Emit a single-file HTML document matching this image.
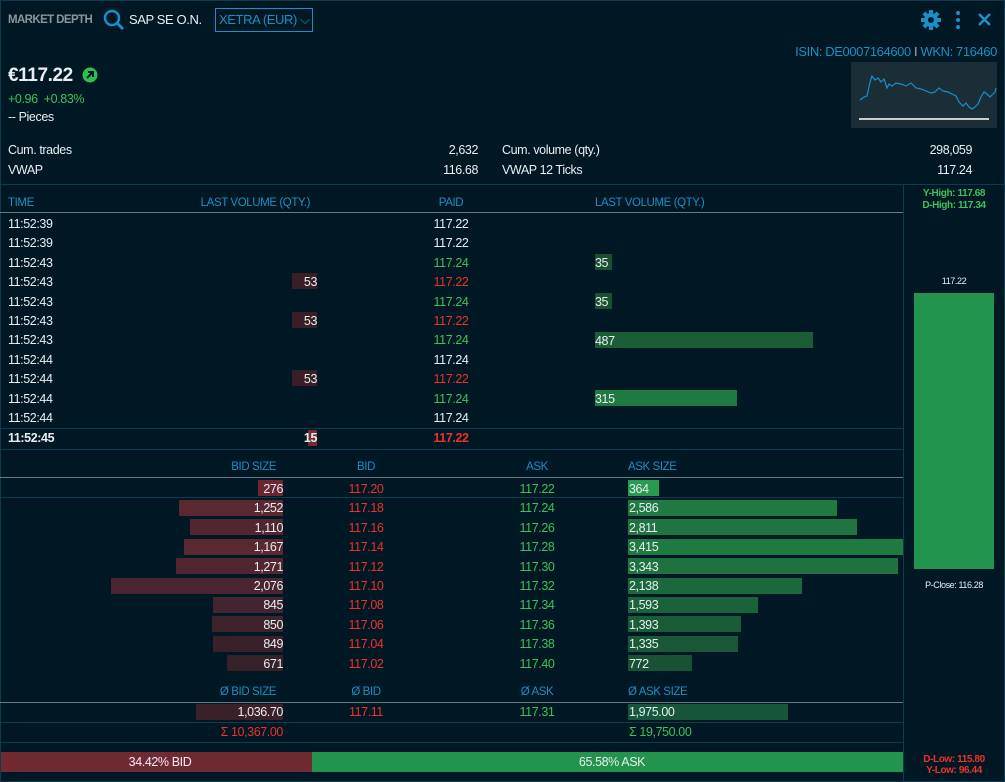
<!DOCTYPE html>
<html><head><meta charset="utf-8"><style>
*{margin:0;padding:0;box-sizing:border-box}
body{width:1005px;height:782px;background:#001824;overflow:hidden;position:relative;font-family:"Liberation Sans Narrow","Liberation Sans",sans-serif;font-size:12.5px;color:#e8eef2;letter-spacing:-0.4px}
.a{position:absolute;white-space:nowrap;line-height:16px}
.r{text-align:right}.c{text-align:center}
.h{color:#1a8fc8}
.g{color:#3cc25a}.rd{color:#f0302a}
.ln{position:absolute;height:1px;background:#0d3b50}
.gl{position:absolute;height:1px;background:#6a7880}
.b{position:absolute;height:16px}
</style></head><body>
<div style="position:absolute;left:0;top:0;width:1005px;height:782px;border:1px solid #0f3a4e"></div>
<div class="a" style="left:8px;top:12px;color:#8a969c;font-weight:bold;font-size:11.5px;letter-spacing:-0.6px">MARKET DEPTH</div>
<svg style="position:absolute;left:102px;top:8px" width="24" height="24"><circle cx="10" cy="10" r="7" stroke="#1a8fc8" stroke-width="2.5" fill="none"/><line x1="15" y1="15" x2="21" y2="21" stroke="#1a8fc8" stroke-width="3"/></svg>
<div class="a" style="left:129px;top:12px;font-size:13px">SAP SE O.N.</div>
<div style="position:absolute;left:215px;top:8px;width:98px;height:24px;border:1px solid #1a8fc8"></div>
<div class="a h" style="left:219px;top:12px;font-size:13px">XETRA (EUR) ⌵</div>
<svg style="position:absolute;left:920px;top:9px" width="80" height="22"><g fill="#1a8fc8"><circle cx="11" cy="11" r="7"/><rect x="9" y="1" width="4" height="20"/><rect x="1" y="9" width="20" height="4"/><rect x="9" y="1" width="4" height="20" transform="rotate(45 11 11)"/><rect x="9" y="1" width="4" height="20" transform="rotate(-45 11 11)"/></g><circle cx="11" cy="11" r="3" fill="#001824"/><circle cx="38" cy="4" r="2" fill="#1a8fc8"/><circle cx="38" cy="11" r="2" fill="#1a8fc8"/><circle cx="38" cy="18" r="2" fill="#1a8fc8"/><path d="M59 5L70 16M70 5L59 16" stroke="#1a8fc8" stroke-width="2.5"/></svg>
<div class="a h r" style="left:700px;width:297px;top:44px;font-size:13px">ISIN: DE0007164600 <span style="color:#aaa">I</span> WKN: 716460</div>
<div style="position:absolute;left:851px;top:62px;width:146px;height:66px;background:#1b2d37"></div>
<svg style="position:absolute;left:851px;top:62px" width="146" height="66"><polyline fill="none" stroke="#1a8fc8" stroke-width="1.2" points="9,38 13,35 16,34 19,20 21,14 24,18 27,16 30,20 33,17 36,26 38,22 41,24 45,21 50,22 55,24 60,21 65,26 70,27 75,29 80,31 84,30 88,26 92,29 97,30 101,32 105,34 108,40 112,44 115,41 118,45 121,47 124,45 127,42 130,35 133,30 136,32 139,35 141,33 144,30 145,26"/><line x1="8" y1="57" x2="138" y2="57" stroke="#ccc" stroke-width="2"/></svg>
<div class="a" style="left:8px;top:66px;font-size:19px;font-weight:bold;line-height:20px">€117.22</div>
<svg style="position:absolute;left:82px;top:67px" width="16" height="16"><circle cx="8" cy="8" r="7.5" fill="#2fbf4f"/><path d="M5 11L11 5M6 5H11V10" stroke="#001824" stroke-width="2" fill="none"/></svg>
<div class="a g" style="left:8px;top:91px">+0.96 &nbsp;+0.83%</div>
<div class="a" style="left:8px;top:109px">-- Pieces</div>
<div class="a" style="left:8px;top:142px">Cum. trades</div><div class="a r" style="left:400px;width:78px;top:142px">2,632</div>
<div class="a" style="left:8px;top:162px">VWAP</div><div class="a r" style="left:400px;width:78px;top:162px">116.68</div>
<div class="a" style="left:502px;top:142px">Cum. volume (qty.)</div><div class="a r" style="left:880px;width:92px;top:142px">298,059</div>
<div class="a" style="left:502px;top:162px">VWAP 12 Ticks</div><div class="a r" style="left:880px;width:92px;top:162px">117.24</div>
<div class="ln" style="left:0;top:184px;width:1005px"></div>
<div style="position:absolute;left:903px;top:184px;width:1px;height:598px;background:#0d3b50"></div>
<!-- trades header -->
<div class="a h" style="left:8px;top:195px;font-size:11.5px">TIME</div>
<div class="a h r" style="left:150px;width:160px;top:195px;font-size:11.5px">LAST VOLUME (QTY.)</div>
<div class="a h c" style="left:420px;width:62px;top:195px;font-size:11.5px">PAID</div>
<div class="a h" style="left:595px;top:195px;font-size:11.5px">LAST VOLUME (QTY.)</div>
<div class="gl" style="left:0;top:212px;width:903px"></div>
<div style="position:absolute;left:0;top:214px">
<div class="b" style="left:292px;top:59px;width:25px;background:#3a1d26"></div>
<div class="b" style="left:292px;top:98px;width:25px;background:#3a1d26"></div>
<div class="b" style="left:292px;top:156px;width:25px;background:#3a1d26"></div>
<div class="b" style="left:595px;top:40px;width:17px;background:#17512f"></div>
<div class="b" style="left:595px;top:79px;width:17px;background:#17512f"></div>
<div class="b" style="left:595px;top:118px;width:218px;background:#1a5e37"></div>
<div class="b" style="left:595px;top:176px;width:142px;background:#1f7a42"></div>
<div class="b" style="left:308px;top:216px;width:9px;background:#7a2a32"></div>
</div>
<div style="position:absolute;left:0;top:215px;line-height:19.4px">
<div class="a" style="left:8px;top:0;line-height:19.4px">11:52:39<br>11:52:39<br>11:52:43<br>11:52:43<br>11:52:43<br>11:52:43<br>11:52:43<br>11:52:44<br>11:52:44<br>11:52:44<br>11:52:44</div>
<div class="a c" style="left:420px;width:62px;top:0;line-height:19.4px">117.22<br>117.22<br><span class="g">117.24</span><br><span class="rd">117.22</span><br><span class="g">117.24</span><br><span class="rd">117.22</span><br><span class="g">117.24</span><br>117.24<br><span class="rd">117.22</span><br><span class="g">117.24</span><br>117.24</div>
<div class="a r" style="left:280px;width:37px;top:58px;line-height:19.4px">53<br><br>53<br><br><br>53</div>
<div class="a" style="left:595px;top:39px;line-height:19.4px">35<br><br>35<br><br>487<br><br><br>315</div>
</div>
<div class="ln" style="left:0;top:428px;width:903px"></div>
<div class="a" style="left:8px;top:430px;font-weight:bold">11:52:45</div>
<div class="a r" style="left:280px;width:37px;top:430px;font-weight:bold">15</div>
<div class="a c rd" style="left:420px;width:62px;top:430px;font-weight:bold">117.22</div>
<div class="ln" style="left:0;top:449px;width:903px"></div>
<!-- book -->
<div class="a h r" style="left:180px;width:96px;top:459px;font-size:11.5px">BID SIZE</div>
<div class="a h c" style="left:335px;width:62px;top:459px;font-size:11.5px">BID</div>
<div class="a h c" style="left:506px;width:62px;top:459px;font-size:11.5px">ASK</div>
<div class="a h" style="left:628px;top:459px;font-size:11.5px">ASK SIZE</div>
<div class="gl" style="left:0;top:477px;width:903px"></div>
<div class="ln" style="left:0;top:497px;width:903px"></div>
<div style="position:absolute;left:0;top:480px">
<div class="b" style="left:258px;top:0;width:25px;background:#6b2630"></div>
<div class="b" style="left:179px;top:20px;width:104px;background:#5a2830"></div>
<div class="b" style="left:190px;top:39px;width:93px;background:#522630"></div>
<div class="b" style="left:184px;top:59px;width:99px;background:#5a2830"></div>
<div class="b" style="left:176px;top:78px;width:107px;background:#522630"></div>
<div class="b" style="left:111px;top:98px;width:172px;background:#4a2430"></div>
<div class="b" style="left:213px;top:117px;width:70px;background:#442430"></div>
<div class="b" style="left:212px;top:136px;width:71px;background:#3e222c"></div>
<div class="b" style="left:213px;top:156px;width:70px;background:#3a202a"></div>
<div class="b" style="left:227px;top:175px;width:56px;background:#36202a"></div>
<div class="b" style="left:628px;top:0;width:31px;background:#2a9a4e"></div>
<div class="b" style="left:628px;top:20px;width:209px;background:#1f7a42"></div>
<div class="b" style="left:628px;top:39px;width:229px;background:#1f7442"></div>
<div class="b" style="left:628px;top:59px;width:275px;background:#1f7a42"></div>
<div class="b" style="left:628px;top:78px;width:270px;background:#1d7240"></div>
<div class="b" style="left:628px;top:98px;width:174px;background:#1b683c"></div>
<div class="b" style="left:628px;top:117px;width:130px;background:#1a633a"></div>
<div class="b" style="left:628px;top:136px;width:113px;background:#195c38"></div>
<div class="b" style="left:628px;top:156px;width:110px;background:#185836"></div>
<div class="b" style="left:628px;top:175px;width:64px;background:#175234"></div>
</div>
<div style="position:absolute;left:0;top:480px">
<div class="a r" style="left:200px;width:83px;top:0;line-height:19.4px">276<br>1,252<br>1,110<br>1,167<br>1,271<br>2,076<br>845<br>850<br>849<br>671</div>
<div class="a c rd" style="left:335px;width:62px;top:0;line-height:19.4px">117.20<br>117.18<br>117.16<br>117.14<br>117.12<br>117.10<br>117.08<br>117.06<br>117.04<br>117.02</div>
<div class="a c g" style="left:506px;width:62px;top:0;line-height:19.4px">117.22<br>117.24<br>117.26<br>117.28<br>117.30<br>117.32<br>117.34<br>117.36<br>117.38<br>117.40</div>
<div class="a" style="left:629px;top:0;line-height:19.4px">364<br>2,586<br>2,811<br>3,415<br>3,343<br>2,138<br>1,593<br>1,393<br>1,335<br>772</div>
</div>
<div class="a h r" style="left:180px;width:96px;top:684px;font-size:11.5px">Ø BID SIZE</div>
<div class="a h c" style="left:335px;width:62px;top:684px;font-size:11.5px">Ø BID</div>
<div class="a h c" style="left:506px;width:62px;top:684px;font-size:11.5px">Ø ASK</div>
<div class="a h" style="left:628px;top:684px;font-size:11.5px">Ø ASK SIZE</div>
<div class="gl" style="left:0;top:702px;width:903px"></div>
<div class="b" style="left:196px;top:704px;width:87px;background:#3a2028"></div>
<div class="b" style="left:628px;top:704px;width:160px;background:#17563a"></div>
<div class="a r" style="left:200px;width:83px;top:704px">1,036.70</div>
<div class="a c rd" style="left:335px;width:62px;top:704px">117.11</div>
<div class="a c g" style="left:506px;width:62px;top:704px">117.31</div>
<div class="a" style="left:629px;top:704px">1,975.00</div>
<div class="ln" style="left:0;top:722px;width:903px"></div>
<div class="a r rd" style="left:150px;width:133px;top:724px">Σ 10,367.00</div>
<div class="a g" style="left:629px;top:724px">Σ 19,750.00</div>
<div class="ln" style="left:0;top:742px;width:903px"></div>
<div style="position:absolute;left:1px;top:752px;width:311px;height:20px;background:#712a32"></div>
<div style="position:absolute;left:312px;top:752px;width:591px;height:20px;background:#23944d"></div>
<div class="a c" style="left:60px;width:200px;top:754px">34.42% BID</div>
<div class="a c" style="left:512px;width:200px;top:754px">65.58% ASK</div>
<!-- right panel -->
<div class="a c g" style="left:903px;width:102px;top:188px;font-size:10px;line-height:12px;font-weight:bold">Y-High: 117.68<br>D-High: 117.34</div>
<div class="a c" style="left:903px;width:102px;top:273px;font-size:9px">117.22</div>
<div style="position:absolute;left:914px;top:293px;width:80px;height:276px;background:#23944d"></div>
<div class="a c" style="left:903px;width:102px;top:577px;font-size:9px">P-Close: 116.28</div>
<div class="a c rd" style="left:903px;width:102px;top:754px;font-size:10px;line-height:11px;font-weight:bold">D-Low: 115.80<br>Y-Low: 96.44</div>
</body></html>
